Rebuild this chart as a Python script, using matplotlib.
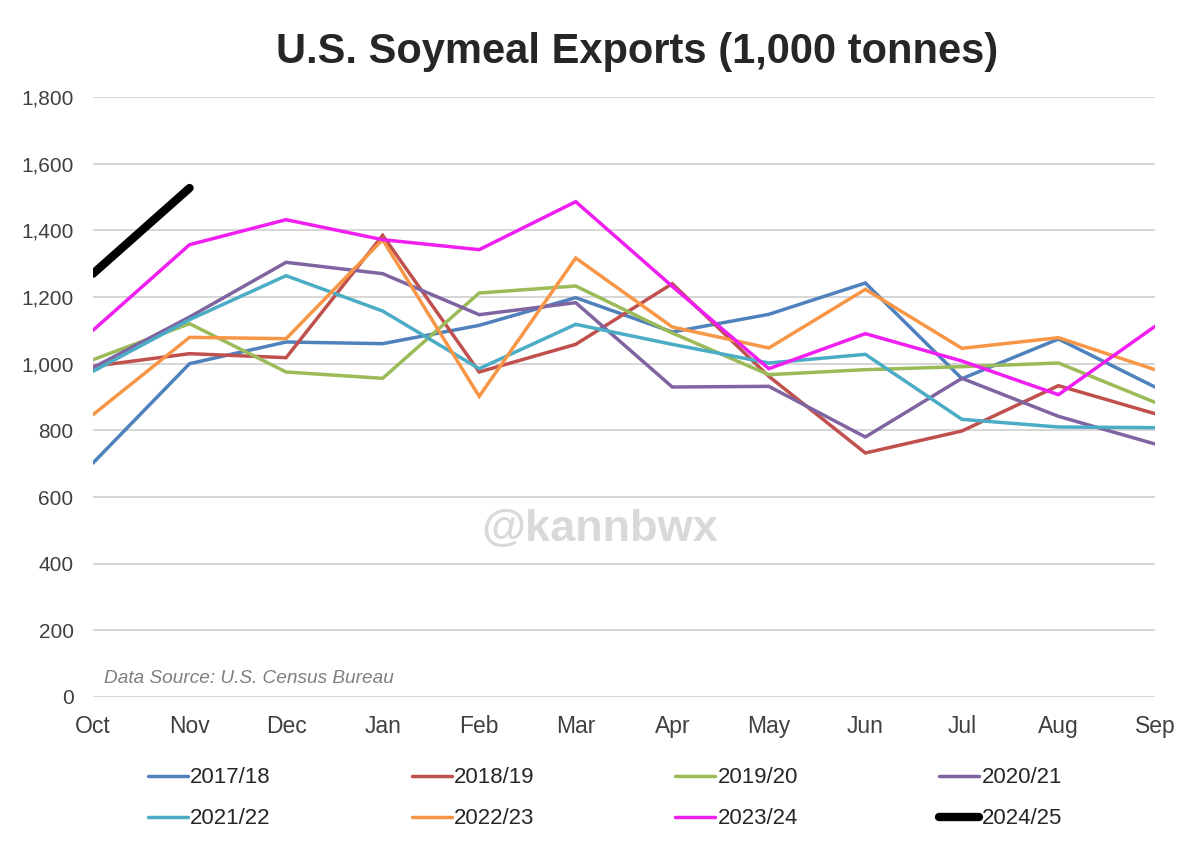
import matplotlib
matplotlib.use("Agg")
import matplotlib.pyplot as plt

months = ["Oct", "Nov", "Dec", "Jan", "Feb", "Mar", "Apr", "May", "Jun", "Jul", "Aug", "Sep"]
y_ticks = [0, 200, 400, 600, 800, 1000, 1200, 1400, 1600, 1800]

s2017 = [702, 1000, 1065, 1060, 1115, 1198, 1095, 1148, 1242, 955, 1074, 930]
s2018 = [992, 1030, 1018, 1385, 975, 1058, 1240, 962, 732, 798, 934, 850]
s2019 = [1012, 1120, 975, 956, 1212, 1233, 1092, 967, 982, 991, 1002, 884]
s2020 = [988, 1140, 1304, 1270, 1147, 1183, 930, 932, 780, 956, 842, 759]
s2021 = [977, 1132, 1264, 1158, 985, 1118, 1058, 1002, 1028, 833, 810, 808]
s2022 = [847, 1079, 1075, 1372, 902, 1317, 1110, 1047, 1223, 1046, 1078, 982]
s2023 = [1100, 1357, 1432, 1372, 1342, 1486, 1232, 985, 1090, 1008, 907, 1112]
s2024 = [1270, 1527]

series = [
    ("2017/18", s2017, "#4F81BD", 2.5),
    ("2018/19", s2018, "#C0504D", 2.5),
    ("2019/20", s2019, "#9BBB59", 2.5),
    ("2020/21", s2020, "#8064A2", 2.5),
    ("2021/22", s2021, "#4BACC6", 2.5),
    ("2022/23", s2022, "#F79646", 2.5),
    ("2023/24", s2023, "#F01EF0", 2.5),
    ("2024/25", s2024, "#000000", 6.0),
]

plt.rcParams["font.family"] = ["Liberation Sans", "DejaVu Sans"]

fig = plt.figure(figsize=(12, 8.57), dpi=100)
ax = fig.add_axes([0.0775, 0.1867, 0.885, 0.7001])

handles = []
for name, vals, color, lw in series:
    h, = ax.plot(range(len(vals)), vals, color=color, lw=lw, label=name,
                 solid_capstyle="round", solid_joinstyle="miter", zorder=3)
    handles.append(h)

ax.set_xlim(0, 11)
ax.set_ylim(0, 1800)
ax.set_yticks(y_ticks)
ax.set_yticklabels([f"{v:,}" for v in y_ticks], fontsize=15, color="#404040")
ax.set_xticks(range(12))
ax.set_xticklabels(months, fontsize=16.5, color="#404040")
ax.tick_params(axis="both", length=0)
ax.tick_params(axis="x", pad=13)
ax.tick_params(axis="y", pad=14)
for sp in ax.spines.values():
    sp.set_visible(False)
ax.grid(axis="y", color="#D0D0D0", lw=1.2, zorder=0)
ax.set_axisbelow(True)

fig.text(0.531, 0.939, "U.S. Soymeal Exports (1,000 tonnes)", ha="center", va="center",
         fontsize=30, fontweight="bold", color="#262626")

ax.text(0.01, 0.03, "Data Source: U.S. Census Bureau", transform=ax.transAxes,
        fontsize=13.7, style="italic", color="#7F7F7F", ha="left", va="center")

fig.text(0.5, 0.3816, "@kannbwx", ha="center", va="center",
         fontsize=32.5, fontweight="bold", color="#D9D9D9", zorder=1)

# row-major order for a 2x4 legend (matplotlib fills column-major)
order = [0, 4, 1, 5, 2, 6, 3, 7]
leg = fig.legend([handles[i] for i in order], [series[i][0] for i in order],
                 loc="center", bbox_to_anchor=(0.504, 0.0685), ncol=4, frameon=False,
                 fontsize=16, handlelength=1.8, handletextpad=0.1, columnspacing=6.35,
                 labelspacing=0.9, labelcolor="#262626")

fig.savefig("out.png", dpi=100, facecolor="white")
